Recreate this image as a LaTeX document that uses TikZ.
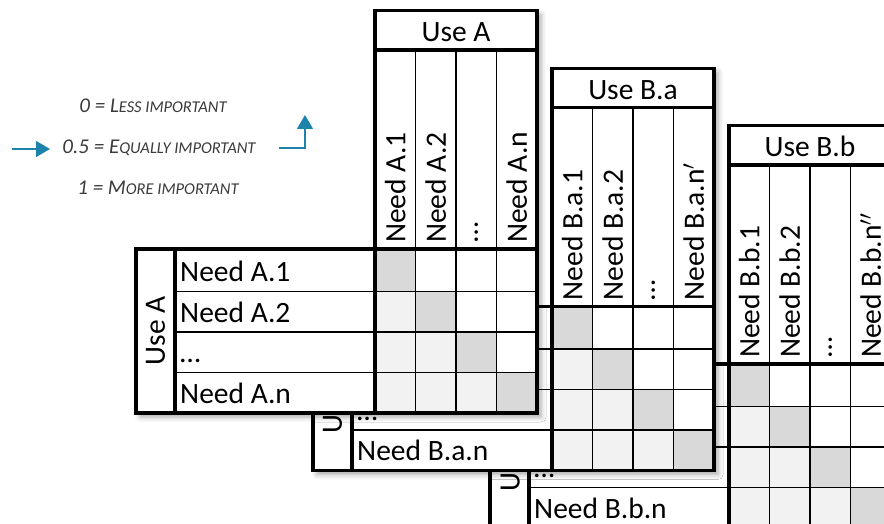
\documentclass[tikz,border=0pt]{standalone}
\usepackage{fontspec}
\setmainfont{Carlito}
\usetikzlibrary{arrows.meta,shadows.blur}

\definecolor{diagcell}{HTML}{D9D9D9}
\definecolor{lowcell}{HTML}{F2F2F2}
\definecolor{flowblue}{RGB}{28,132,172}
\definecolor{legendgray}{HTML}{3A3A3A}

\tikzset{
  frame/.style={line width=3.2pt},
  gridline/.style={line width=1.8pt},
  tabletext/.style={font=\fontsize{29.5}{34}\selectfont, inner sep=0pt},
  legendtext/.style={font=\fontsize{21}{25}\selectfont\itshape, text=legendgray, inner sep=0pt},
  flow/.style={flowblue, line width=1.4pt, -{Triangle[length=14pt,width=16pt]}},
}
\newcommand{\lowsc}[1]{{\fontsize{16.5}{19}\selectfont #1}}

% #1 name, #2 #3 shift, #4 use, #5 need prefix, #6 last column
\newcommand{\needtable}[6]{%
\begin{scope}[shift={(#2,#3)}]
  \fill[white, blur shadow={shadow xshift=4pt, shadow yshift=-4pt, shadow blur radius=5pt, shadow opacity=35}]
    (136,249) -- (375,249) -- (375,10.7) -- (537,10.7) -- (537,413) -- (136,413) -- cycle;
  % cells
  \foreach \rw/\ya/\yb in {1/249/291.5, 2/291.5/332, 3/332/372.5, 4/372.5/413}
    \foreach \cl/\xa/\xb in {1/375/415.5, 2/415.5/456, 3/456/496.5, 4/496.5/537} {
      \ifnum\rw=\cl \fill[diagcell] (\xa,\ya) rectangle (\xb,\yb); \fi
      \ifnum\rw>\cl \fill[lowcell] (\xa,\ya) rectangle (\xb,\yb); \fi
    }
  \foreach \x in {415.5,456,496.5}
    \draw[gridline] (\x,50) -- (\x,413);
  \foreach \y in {291.5,332,372.5}
    \draw[gridline] (175,\y) -- (537,\y);
  \draw[frame] (375,50) -- (537,50);
  \draw[frame] (136,249) -- (537,249);
  \draw[frame] (375,50) -- (375,413);
  \draw[frame] (175,249) -- (175,413);
  \draw[frame] (136,249) -- (375,249) -- (375,10.7) -- (537,10.7) -- (537,413) -- (136,413) -- cycle;
  % labels
  \node[tabletext, anchor=base] (#1-head) at (456,42) {#4};
  \node[tabletext, rotate=90] (#1-side) at (155.5,331) {#4};
  \node[tabletext, rotate=90, anchor=west] (#1-c1) at (395.25,243) {Need #5.1};
  \node[tabletext, rotate=90, anchor=west] (#1-c2) at (435.75,243) {Need #5.2};
  \node[tabletext, rotate=90, anchor=west] (#1-c3) at (476.25,243) {…};
  \node[tabletext, rotate=90, anchor=west] (#1-c4) at (516.75,243) {Need #5.#6};
  \node[tabletext, anchor=base west] (#1-r1) at (180,281.5) {Need #5.1};
  \node[tabletext, anchor=base west] (#1-r2) at (180,322) {Need #5.2};
  \node[tabletext, anchor=base west] (#1-r3) at (180,362.5) {…};
  \node[tabletext, anchor=base west] (#1-r4) at (180,403) {Need #5.n};
\end{scope}}

\begin{document}
\begin{tikzpicture}[x=1pt, y=-1pt]
  \useasboundingbox (0,0) rectangle (884,524);
  \clip (0,0) rectangle (884,524);

  \needtable{bb}{354}{115}{Use B.b}{B.b}{n$''$}
  \needtable{ba}{177}{57.5}{Use B.a}{B.a}{n$'$}
  \needtable{a}{0}{0}{Use A}{A}{n}

  % legend
  \node[legendtext, anchor=base] (less) at (153,113) {0 = L\lowsc{ESS IMPORTANT}};
  \node[legendtext, anchor=base] (equal) at (159,154) {0.5 = E\lowsc{QUALLY IMPORTANT}};
  \node[legendtext, anchor=base] (more) at (158,195) {1 = M\lowsc{ORE IMPORTANT}};
  \coordinate (loopin) at (12,149);
  \coordinate (loopend) at (50,149);
  \coordinate (loopout) at (279,148);
  \coordinate (looptop) at (305,115);
  \draw[flow] (loopin) -- (loopend);
  \draw[flow] (loopout) -| (looptop);
\end{tikzpicture}
\end{document}
